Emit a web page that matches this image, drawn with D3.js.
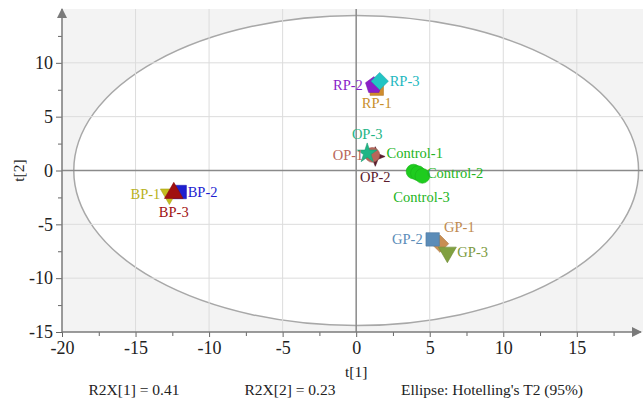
<!DOCTYPE html>
<html>
<head>
<meta charset="utf-8">
<script src="https://cdn.jsdelivr.net/npm/d3@7"></script>
<style>
  body { margin: 0; background: #fff; }
  svg text { font-family: "Liberation Serif", "Times New Roman", "DejaVu Serif", serif !important; }
  .tick-label { font-size: 18px; fill: #222; }
  .pt-label { font-size: 14.5px; }
  .foot { font-size: 15.5px; fill: #222; }
</style>
</head>
<body>
<script>
// sample names, scores and colours
const names  = ['RP-1','RP-2','RP-3','OP-2','OP-1','OP-3','Control-1','Control-2','Control-3',
                'BP-1','BP-2','BP-3','GP-1','GP-3','GP-2']
const t1     = [1.4, 1.2, 1.6, 1.3, 1.1, 0.75, 3.9, 4.2, 4.5, -12.7, -12.0, -12.4, 5.7, 6.2, 5.2]
const t2     = [7.6, 7.9, 8.3, 1.3, 1.45, 1.6, -0.1, -0.25, -0.5, -2.2, -2.0, -2.1, -6.8, -7.6, -6.4]
const shapes = ['square','pentagon','diamond','star4','circle','star','circle','circle','circle',
                'tridown','square','triangle','diamond','tridown','square']
const colors = ['#d08c2c','#8a1ec8','#22c4c4','#5a1a2c','#b8665a','#1fb585','#1ecc1e','#1ecc1e','#1ecc1e',
                '#c4bc1c','#1e1ed0','#a01010','#c88e52','#80a040','#5b8cb8']
const labelColors = ['#c8902c','#8a1ec8','#22b8c0','#5a1a2c','#b8665a','#1fb585','#22b422','#22b422','#22b422',
                '#b8b21c','#1e1ed0','#a01010','#c08a50','#7a9a40','#5b8cb8']

const xTicks = [-20, -15, -10, -5, 0, 5, 10, 15]
const yTicks = [-15, -10, -5, 0, 5, 10]
const ellipseT = [19.2, 14.4]   // Hotelling's T2 (95%) semi-axes
const footTexts = ["R2X[1] = 0.41", "R2X[2] = 0.23", "Ellipse: Hotelling's T2 (95%)"]

// label placement: [dx, dy, anchor]
const labelPos = {
  'RP-1': [0, 19, 'middle'], 'RP-2': [-11, 5, 'end'], 'RP-3': [10, 5, 'start'],
  'OP-1': [-9, 5, 'end'], 'OP-2': [0, 25, 'middle'], 'OP-3': [0, -14, 'middle'],
  'Control-1': [-27, -14, 'start'], 'Control-2': [9, 5, 'start'], 'Control-3': [-29, 26, 'start'],
  'BP-1': [-9, 5, 'end'], 'BP-2': [8, 5, 'start'], 'BP-3': [0, 24, 'middle'],
  'GP-1': [4, -12, 'start'], 'GP-2': [-10, 5, 'end'], 'GP-3': [10, 5, 'start']
}

const serif = '"Liberation Serif", "Times New Roman", serif'

let svgWidth = 643, svgHeight = 401
let svg = d3.select('body').append('svg')
            .attr('width', svgWidth).attr('height', svgHeight)
            .attr('font-family', serif)

let xScale = d3.scaleLinear().domain([-20, 19.5]).range([62, 643])
let yScale = d3.scaleLinear().domain([-15, 15]).range([332, 9])

// plot background
svg.append('rect')
   .attr('x', xScale(-20)).attr('y', yScale(15))
   .attr('width', xScale(19.5) - xScale(-20))
   .attr('height', yScale(-15) - yScale(15))
   .style('fill', '#f3f3f3')

// ellipse
svg.append('ellipse')
   .attr('cx', xScale(0)).attr('cy', yScale(0))
   .attr('rx', xScale(ellipseT[0]) - xScale(0))
   .attr('ry', yScale(0) - yScale(ellipseT[1]))
   .style('fill', '#fff').style('stroke', '#a8a8a8').style('stroke-width', 1.5)

// grid
svg.append('g').selectAll('line')
   .data(xTicks.filter(d => d != -20 && d != 0))
   .join('line')
   .attr('x1', d => xScale(d)).attr('x2', d => xScale(d))
   .attr('y1', yScale(15)).attr('y2', yScale(-15))
   .style('stroke', '#dcdcdc').style('stroke-width', 1)
svg.append('g').selectAll('line')
   .data(yTicks.filter(d => d != -15 && d != 0))
   .join('line')
   .attr('y1', d => yScale(d)).attr('y2', d => yScale(d))
   .attr('x1', xScale(-20)).attr('x2', xScale(19.5))
   .style('stroke', '#dcdcdc').style('stroke-width', 1)

// zero lines
svg.append('line')
   .attr('x1', xScale(0)).attr('x2', xScale(0))
   .attr('y1', yScale(15)).attr('y2', yScale(-15))
   .style('stroke', '#8a8a8a').style('stroke-width', 1.5)
svg.append('line')
   .attr('y1', yScale(0)).attr('y2', yScale(0))
   .attr('x1', xScale(-20)).attr('x2', xScale(19.5))
   .style('stroke', '#8a8a8a').style('stroke-width', 1.5)

// arrow heads
let defs = svg.append('defs')
defs.append('marker').attr('id', 'arrow')
    .attr('viewBox', '0 0 10 10').attr('refX', 9).attr('refY', 5)
    .attr('markerWidth', 10).attr('markerHeight', 10)
    .attr('markerUnits', 'userSpaceOnUse')
    .attr('orient', 'auto')
    .append('path').attr('d', 'M0,0 L10,5 L0,10 Z').style('fill', '#7a7a7a')

// axes
let xAxis = d3.axisBottom(xScale).tickValues(d3.range(-20, 19, 2.5))
              .tickSize(4).tickFormat(d => xTicks.includes(d) ? d : '')
let gx = svg.append('g').attr('transform', 'translate(0,' + yScale(-15) + ')').call(xAxis)
gx.attr('font-family', serif).attr('font-size', 18)
gx.select('.domain').remove()
gx.selectAll('.tick line').style('stroke', '#666')
  .attr('y2', d => xTicks.includes(d) ? 5 : 4)
gx.selectAll('.tick text').attr('class', 'tick-label').attr('y', 9)
svg.append('line')
   .attr('x1', xScale(-20)).attr('x2', 641)
   .attr('y1', yScale(-15)).attr('y2', yScale(-15))
   .style('stroke', '#7a7a7a').style('stroke-width', 1.5)
   .attr('marker-end', 'url(#arrow)')

let yAxis = d3.axisLeft(yScale).tickValues(d3.range(-15, 14, 2.5))
              .tickSize(4).tickFormat(d => yTicks.includes(d) ? d : '')
let gy = svg.append('g').attr('transform', 'translate(' + xScale(-20) + ',0)').call(yAxis)
gy.attr('font-family', serif).attr('font-size', 18)
gy.select('.domain').remove()
gy.selectAll('.tick line').style('stroke', '#666')
  .attr('x2', d => yTicks.includes(d) ? -6 : -4)
gy.selectAll('.tick text').attr('class', 'tick-label').attr('x', -9)
svg.append('line')
   .attr('x1', xScale(-20)).attr('x2', xScale(-20))
   .attr('y1', yScale(-15)).attr('y2', 9)
   .style('stroke', '#7a7a7a').style('stroke-width', 1.5)
   .attr('marker-end', 'url(#arrow)')

// symbol shapes
const pentagon = {
  draw(ctx, size) {
    let r = Math.sqrt(size / 2.378)
    for (let i = 0; i < 5; i++) {
      let a = -Math.PI / 2 + i * 2 * Math.PI / 5
      i == 0 ? ctx.moveTo(r * Math.cos(a), r * Math.sin(a)) : ctx.lineTo(r * Math.cos(a), r * Math.sin(a))
    }
    ctx.closePath()
  }
}
const star4 = {
  draw(ctx, size) {
    let r = Math.sqrt(size) * 0.8, ri = r * 0.4
    for (let i = 0; i < 8; i++) {
      let a = -Math.PI / 2 + i * Math.PI / 4, rr = i % 2 ? ri : r
      i == 0 ? ctx.moveTo(rr * Math.cos(a), rr * Math.sin(a)) : ctx.lineTo(rr * Math.cos(a), rr * Math.sin(a))
    }
    ctx.closePath()
  }
}
const symbolFor = {
  square: [d3.symbolSquare, 180, 0], circle: [d3.symbolCircle, 170, 0],
  diamond: [d3.symbolSquare, 150, 45], star: [d3.symbolStar, 120, 0],
  triangle: [d3.symbolTriangle, 150, 0], tridown: [d3.symbolTriangle, 140, 180],
  pentagon: [pentagon, 180, 0], star4: [star4, 150, 0]
}

let pts = names.map((n, i) => ({name: n, x: t1[i], y: t2[i], shape: shapes[i], color: colors[i], lc: labelColors[i]}))

svg.append('g').selectAll('path')
   .data(pts)
   .join('path')
   .attr('d', d => d3.symbol().type(symbolFor[d.shape][0]).size(symbolFor[d.shape][1])())
   .attr('transform', d => 'translate(' + xScale(d.x) + ',' + yScale(d.y) + ') rotate(' + symbolFor[d.shape][2] + ')')
   .style('fill', d => d.color)
   .style('stroke', d => d3.color(d.color).darker(0.4))
   .style('stroke-width', 0.6)

svg.append('g').selectAll('text')
   .data(pts)
   .join('text')
   .attr('class', 'pt-label')
   .attr('x', d => xScale(d.x) + labelPos[d.name][0])
   .attr('y', d => yScale(d.y) + labelPos[d.name][1])
   .attr('text-anchor', d => labelPos[d.name][2])
   .style('fill', d => d.lc)
   .text(d => d.name)

// axis titles and footer
svg.append('text').attr('class', 'foot').attr('x', xScale(0)).attr('y', 377)
   .attr('text-anchor', 'middle').text('t[1]')
svg.append('text').attr('class', 'foot')
   .attr('transform', 'translate(24,' + yScale(0) + ') rotate(-90)')
   .attr('text-anchor', 'middle').text('t[2]')
svg.selectAll('.foot-text')
   .data(footTexts)
   .join('text')
   .attr('class', 'foot')
   .attr('x', (d, i) => [134, 290, 492][i])
   .attr('y', 395)
   .attr('text-anchor', 'middle')
   .text(d => d)
</script>
</body>
</html>
